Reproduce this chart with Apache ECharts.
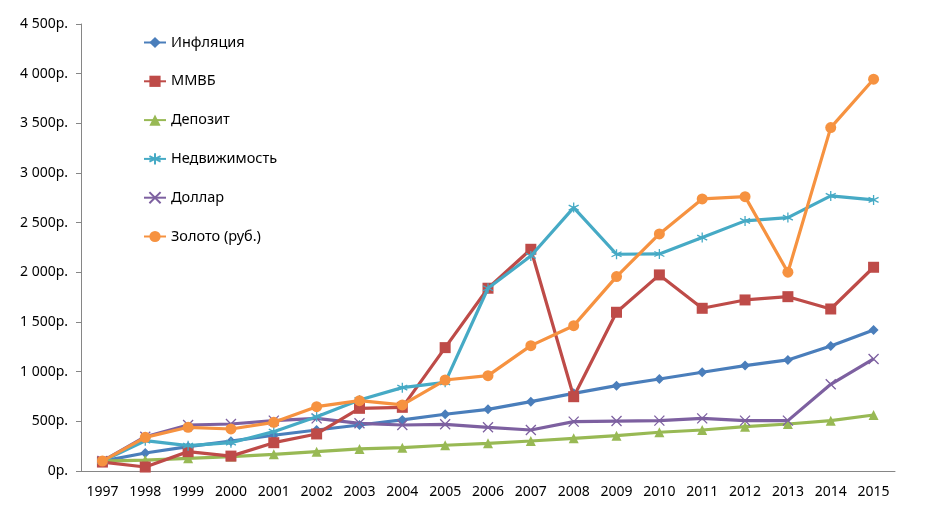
<!DOCTYPE html>
<html>
<head>
<meta charset="utf-8">
<script src="https://cdn.jsdelivr.net/npm/echarts@6/dist/echarts.min.js"></script>
<style>html,body{margin:0;padding:0;background:#fff}#c{width:925px;height:519px}</style>
</head>
<body>
<div id="c"></div>
<script>
const years = ['1997','1998','1999','2000','2001','2002','2003','2004','2005','2006','2007','2008','2009','2010','2011','2012','2013','2014','2015'];
const inflation = [100,181,245,300,360,413,463,514,571,621,698,782,859,926,994,1061,1118,1259,1420];
const mmvb = [90,40,195,150,285,373,631,641,1242,1840,2232,748,1598,1974,1638,1722,1755,1631,2051];
const deposit = [100,110,128,145,168,195,222,235,259,279,302,329,356,390,413,446,473,507,564];
const realty = [100,305,255,285,396,547,715,839,893,1840,2165,2652,2182,2185,2350,2518,2551,2769,2729];
const dollar = [100,345,463,473,507,530,480,463,470,440,413,497,503,507,530,507,507,873,1128];
const gold = [100,339,440,423,490,648,708,665,916,960,1262,1463,1957,2387,2739,2762,2001,3457,3944];
const yTicks = [0,500,1000,1500,2000,2500,3000,3500,4000,4500];
const names = ['Инфляция','ММВБ','Депозит','Недвижимость','Доллар','Золото (руб.)'];

const colors = ['#4A7EBB','#BE4B48','#98B954','#46AAC5','#7D60A0','#F69240'];
const starPath = 'path://M0,-10 L0,10 M-8.66,-5 L8.66,5 M-8.66,5 L8.66,-5';
const xPath = 'path://M-8,-8 L8,8 M-8,8 L8,-8';
const symbols = ['diamond','rect','triangle',starPath,xPath,'circle'];
const sizes = [10,11,10,10,10,11];
const data = [inflation, mmvb, deposit, realty, dollar, gold];

function fmt(v){
  const s = String(v);
  return (s.length > 3 ? s.slice(0, s.length-3) + ' ' + s.slice(-3) : s) + 'р.';
}

const chart = echarts.init(document.getElementById('c'));
chart.setOption({
  animation: false,
  textStyle: {fontFamily: 'Noto Sans'},
  grid: {left: 81, right: 30, top: 24, bottom: 48},
  legend: {
    orient: 'vertical', left: 138, top: 30,
    itemWidth: 22, itemHeight: 14, itemGap: 23.8,
    textStyle: {fontSize: 14.5, color: '#000', fontFamily: 'Noto Sans'},
    data: names
  },
  xAxis: {
    type: 'category', data: years, boundaryGap: true,
    axisLine: {lineStyle: {color: '#868686'}},
    axisTick: {length: 5, lineStyle: {color: '#868686'}},
    axisLabel: {color: '#000', fontSize: 14, margin: 14}
  },
  yAxis: {
    type: 'value', min: yTicks[0], max: yTicks[yTicks.length-1], interval: 500,
    axisLine: {show: true, lineStyle: {color: '#868686'}},
    axisTick: {show: true, length: 5, lineStyle: {color: '#868686'}},
    splitLine: {show: false},
    axisLabel: {color: '#000', fontSize: 14, margin: 13, formatter: fmt}
  },
  series: names.map((n, i) => ({
    name: n, type: 'line', data: data[i],
    symbol: symbols[i], symbolSize: sizes[i],
    lineStyle: {width: 3.2, color: colors[i]},
    itemStyle: {color: colors[i], borderColor: colors[i], borderWidth: (i===3||i===4) ? 1.3 : 0},
    z: [2,3,2,4,2,5][i]
  }))
});
</script>
</body>
</html>
